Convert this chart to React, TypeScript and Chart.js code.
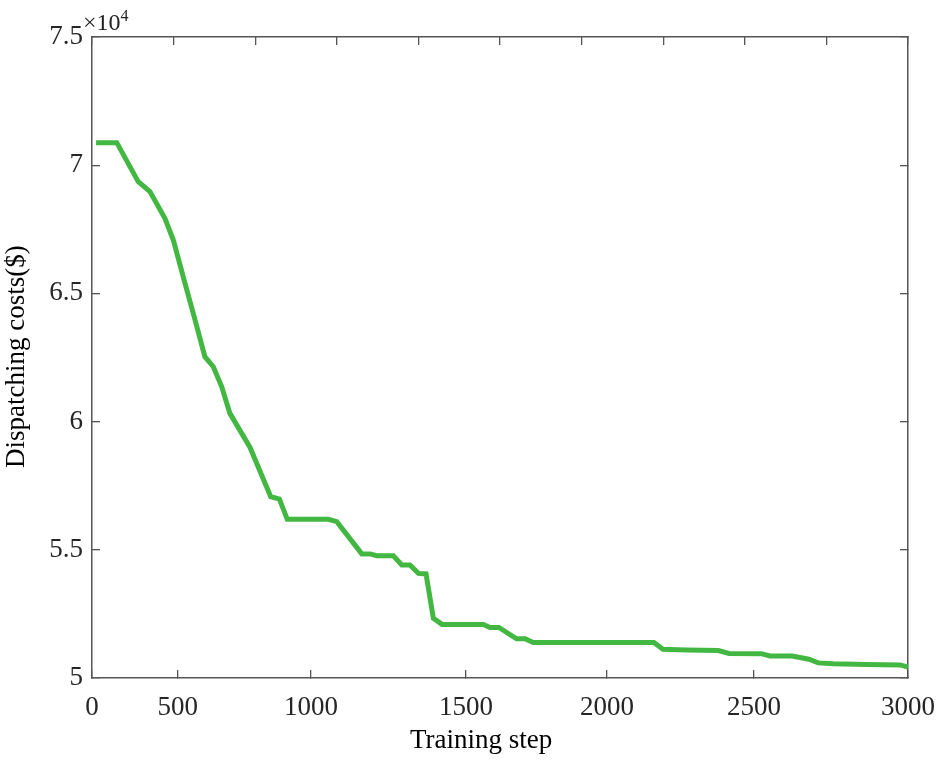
import React, { useEffect, useRef } from "react";
import { Chart, registerables } from "chart.js";

Chart.register(...registerables);

// Training step (position along the uniform plot axis) and dispatching cost ($)
const steps = [15, 91, 170, 213, 268, 299, 342, 379, 415, 446, 477, 507, 581, 657, 689, 718, 869, 900, 992, 1022, 1047, 1108, 1139, 1169, 1200, 1228, 1255, 1287, 1439, 1463, 1496, 1561, 1592, 1622, 2066, 2099, 2186, 2303, 2342, 2460, 2493, 2574, 2636, 2670, 2725, 2848, 2971, 3000];
const costs = [70880, 70880, 69360, 68970, 67930, 67080, 65390, 63960, 62530, 62140, 61360, 60320, 58990, 57070, 56980, 56190, 56190, 56100, 54840, 54840, 54770, 54770, 54410, 54410, 54080, 54060, 52330, 52090, 52090, 51970, 51970, 51530, 51530, 51380, 51380, 51120, 51090, 51070, 50960, 50950, 50860, 50860, 50730, 50590, 50560, 50530, 50510, 50430];

// Bottom axis tick positions (as they sit in the figure) and their labels
const xTickValues = [0, 315, 805, 1375, 1893, 2434, 3000];
const xTickLabels = ["0", "500", "1000", "1500", "2000", "2500", "3000"];
const topTickStep = 300;
const yMin = 50000;
const yMax = 75000;
const yStep = 5000;

const xTitle = "Training step";
const yTitle = "Dispatching costs($)";

const FONT = "'Liberation Serif', 'Times New Roman', serif";
const AXIS = "#555555";

const noPad = (s: any) => {
  s.paddingLeft = 0;
  s.paddingRight = 0;
  s.paddingTop = 0;
  s.paddingBottom = 0;
};

export default function App() {
  const ref = useRef<HTMLCanvasElement | null>(null);

  useEffect(() => {
    const canvas = ref.current;
    if (!canvas) return;

    const textPlugin = {
      id: "textPlugin",
      afterDraw(chart: any) {
        const ctx = chart.ctx;
        ctx.save();
        ctx.textBaseline = "alphabetic";
        ctx.textAlign = "left";
        // exponent label
        ctx.fillStyle = "#222";
        ctx.font = `24px ${FONT}`;
        ctx.fillText("\u00d710", 83, 29.5);
        ctx.font = `16px ${FONT}`;
        ctx.fillText("4", 120.5, 21);
        // x title
        ctx.fillStyle = "#000";
        ctx.font = `27px ${FONT}`;
        ctx.fillText(xTitle, 410, 748);
        // y title
        ctx.translate(23.5, 468);
        ctx.rotate(-Math.PI / 2);
        ctx.fillText(yTitle, 0, 0);
        ctx.restore();
      },
    };

    const chart = new Chart(canvas, {
      type: "line",
      data: {
        datasets: [
          {
            data: steps.map((s, i) => ({ x: s, y: costs[i] })),
            borderColor: "rgb(66,183,66)",
            borderWidth: 5,
            pointRadius: 0,
            tension: 0,
            fill: false,
            xAxisID: "x",
            yAxisID: "y",
          },
        ],
      },
      options: {
        animation: false,
        responsive: false,
        layout: { padding: 0 },
        plugins: { legend: { display: false }, tooltip: { enabled: false } },
        scales: {
          x: {
            type: "linear",
            position: "bottom",
            min: 0,
            max: 3000,
            afterBuildTicks: (axis: any) => {
              axis.ticks = xTickValues.map((v) => ({ value: v }));
            },
            afterFit: (s: any) => {
              s.height = 83;
              noPad(s);
            },
            ticks: {
              autoSkip: false,
              maxRotation: 0,
              padding: 22,
              color: "#262626",
              font: { family: FONT, size: 27 },
              callback: (_v: any, i: number) => xTickLabels[i],
            },
            grid: { drawOnChartArea: false, tickLength: -8, color: AXIS, lineWidth: 1.3 },
            border: { color: AXIS, width: 1.5 },
          },
          x2: {
            type: "linear",
            position: "top",
            min: 0,
            max: 3000,
            afterFit: (s: any) => {
              s.height = 37;
              noPad(s);
            },
            ticks: { display: false, stepSize: topTickStep },
            grid: { drawOnChartArea: false, tickLength: -8, color: AXIS, lineWidth: 1.3 },
            border: { color: AXIS, width: 1.5 },
          },
          y: {
            type: "linear",
            position: "left",
            min: yMin,
            max: yMax,
            afterFit: (s: any) => {
              s.width = 92;
              noPad(s);
            },
            ticks: {
              stepSize: yStep,
              padding: 17,
              color: "#262626",
              font: { family: FONT, size: 27 },
              callback: (v: any) => String(Number(v) / 10000),
            },
            grid: { drawOnChartArea: false, tickLength: -8, color: AXIS, lineWidth: 1.3 },
            border: { color: AXIS, width: 1.5 },
          },
          y2: {
            type: "linear",
            position: "right",
            min: yMin,
            max: yMax,
            afterFit: (s: any) => {
              s.width = 42;
              noPad(s);
            },
            ticks: { display: false, stepSize: yStep },
            grid: { drawOnChartArea: false, tickLength: -8, color: AXIS, lineWidth: 1.3 },
            border: { color: AXIS, width: 1.5 },
          },
        },
      },
      plugins: [textPlugin],
    } as any);

    return () => chart.destroy();
  }, []);

  return (
    <div style={{ position: "fixed", left: 0, top: 0, width: 950, height: 761, background: "#fff" }}>
      <canvas ref={ref} width={950} height={761} style={{ display: "block" }} />
    </div>
  );
}
